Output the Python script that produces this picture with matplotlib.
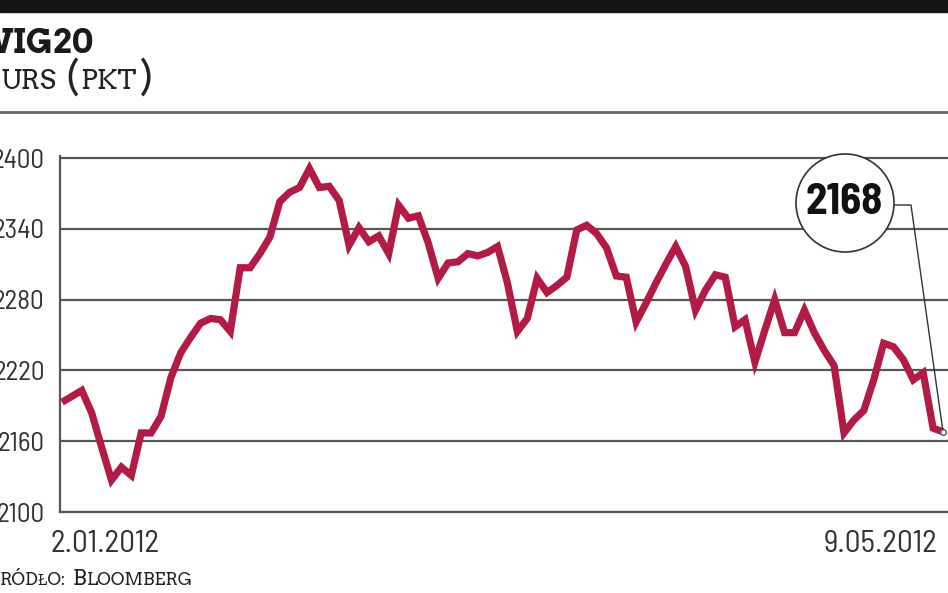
import matplotlib.pyplot as plt
from matplotlib.patches import Circle, Rectangle

# Dane: WIG20, notowania dzienne 2.01.2012 - 9.05.2012
values = [2193, 2198, 2203, 2184, 2155, 2127, 2138, 2131, 2167, 2167,
          2181, 2214, 2235, 2248, 2260, 2264, 2263, 2253, 2307, 2307,
          2319, 2333, 2363, 2371, 2375, 2391, 2375, 2376, 2364, 2326,
          2341, 2329, 2334, 2319, 2360, 2349, 2351, 2328, 2298, 2311,
          2312, 2319, 2317, 2320, 2325, 2294, 2253, 2264, 2298, 2286,
          2292, 2299, 2339, 2343, 2336, 2324, 2300, 2299, 2261, 2277,
          2294, 2310, 2325, 2308, 2271, 2288, 2301, 2299, 2257, 2263,
          2227, 2254, 2280, 2252, 2252, 2271, 2252, 2237, 2224, 2167,
          2178, 2186, 2212, 2243, 2240, 2229, 2212, 2218, 2171, 2168]
y_ticks = [2100, 2160, 2220, 2280, 2340, 2400]
first_date = '2.01.2012'
last_date = '9.05.2012'

W, H = 948, 593
NARROW = ['Barlow Semi Condensed', 'Barlow Condensed', 'DejaVu Sans']
SERIF = ['Arvo', 'Zilla Slab', 'DejaVu Serif']
RED = '#B21B45'
GRID = '#575757'


def fx(px):
    return px / W


def fy(py):
    return 1 - py / H


fig = plt.figure(figsize=(W / 100, H / 100), dpi=100)

# czarny pasek u gory i linia pod tytulem
fig.patches.append(Rectangle((0, fy(12)), 1, 12 / H, transform=fig.transFigure,
                             color='#151515', zorder=0))
fig.add_artist(plt.Line2D([0, 1], [fy(112), fy(112)], color='#6a6a6a', lw=2))

# wykres
n = len(values)
px_per = (943 - 62) / (n - 1)
ax = fig.add_axes([fx(60), fy(512), 1 - fx(60), (512 - 156) / H])
ax.plot(range(n), values, color=RED, lw=5.2, solid_joinstyle='miter',
        solid_capstyle='butt', clip_on=False, zorder=3)
ax.set_xlim(-2 / px_per, n - 1 + 5 / px_per)
ax.set_ylim(2100, 2100 + 356 / (354 / 300))
ax.set_yticks(y_ticks)
ax.set_xticks([])
ax.yaxis.grid(True, color=GRID, lw=1.6)
ax.set_axisbelow(True)
for s in ['top', 'right']:
    ax.spines[s].set_visible(False)
for s in ['left', 'bottom']:
    ax.spines[s].set_color(GRID)
    ax.spines[s].set_linewidth(1.6)
ax.tick_params(axis='y', length=0, pad=11, labelsize=19.5, labelcolor='#333333')
for lab in ax.get_yticklabels():
    lab.set_family(NARROW)

fig.text(fx(51), fy(544), first_date, family=NARROW, fontsize=22.5,
         color='#333333', va='center', ha='left')
fig.text(fx(938), fy(544), last_date, family=NARROW, fontsize=22.5,
         color='#333333', va='center', ha='right')

# adnotacja z ostatnia wartoscia
fig.patches.append(Circle((845 / 100, (H - 203) / 100), 0.49,
                          transform=fig.dpi_scale_trans, facecolor='white',
                          edgecolor='#333333', lw=1.2, zorder=5))
fig.text(fx(844), fy(203), str(values[-1]), family=NARROW, fontsize=31,
         fontweight='bold', color='#111111', ha='center', va='center', zorder=6)
ax.annotate('', xy=(n - 1, values[-1]), xycoords='data',
            xytext=(894, H - 205), textcoords='figure pixels',
            arrowprops=dict(arrowstyle='-', color='#333333', lw=1,
                            shrinkA=0, shrinkB=2,
                            connectionstyle='arc,angleA=0,angleB=0,armA=17,armB=0,rad=0'),
            annotation_clip=False)
ax.plot(n - 1, values[-1], marker='o', ms=4, mfc='white', mec='#555555',
        mew=1, clip_on=False, zorder=4)

# teksty w stylu kapitalikow
renderer = fig.canvas.get_renderer()


def smallcaps(parts, x_right, y_base, weight='normal', color='#222222'):
    objs = []
    for txt, size, gap in parts:
        t = fig.text(0, fy(y_base), txt, fontsize=size, family=SERIF,
                     fontweight=weight, color=color, va='baseline')
        objs.append((t, gap))
    widths = [t.get_window_extent(renderer).width + g for t, g in objs]
    x = x_right - sum(widths)
    for (t, g), w in zip(objs, widths):
        t.set_x(fx(x))
        x += w


smallcaps([('WIG20', 24, 0)], 93, 53, weight='bold', color='#1a1a1a')
smallcaps([('K', 27, 1), ('URS', 19.5, 9), ('(', 27, 2), ('PKT', 19.5, 2), (')', 27, 0)],
          152, 89)
smallcaps([('Ź', 15, 1), ('RÓDŁO:', 12.5, 6), ('B', 15, 1), ('LOOMBERG', 12.5, 0)],
          193, 585)

fig.savefig('out.png', dpi=100)
